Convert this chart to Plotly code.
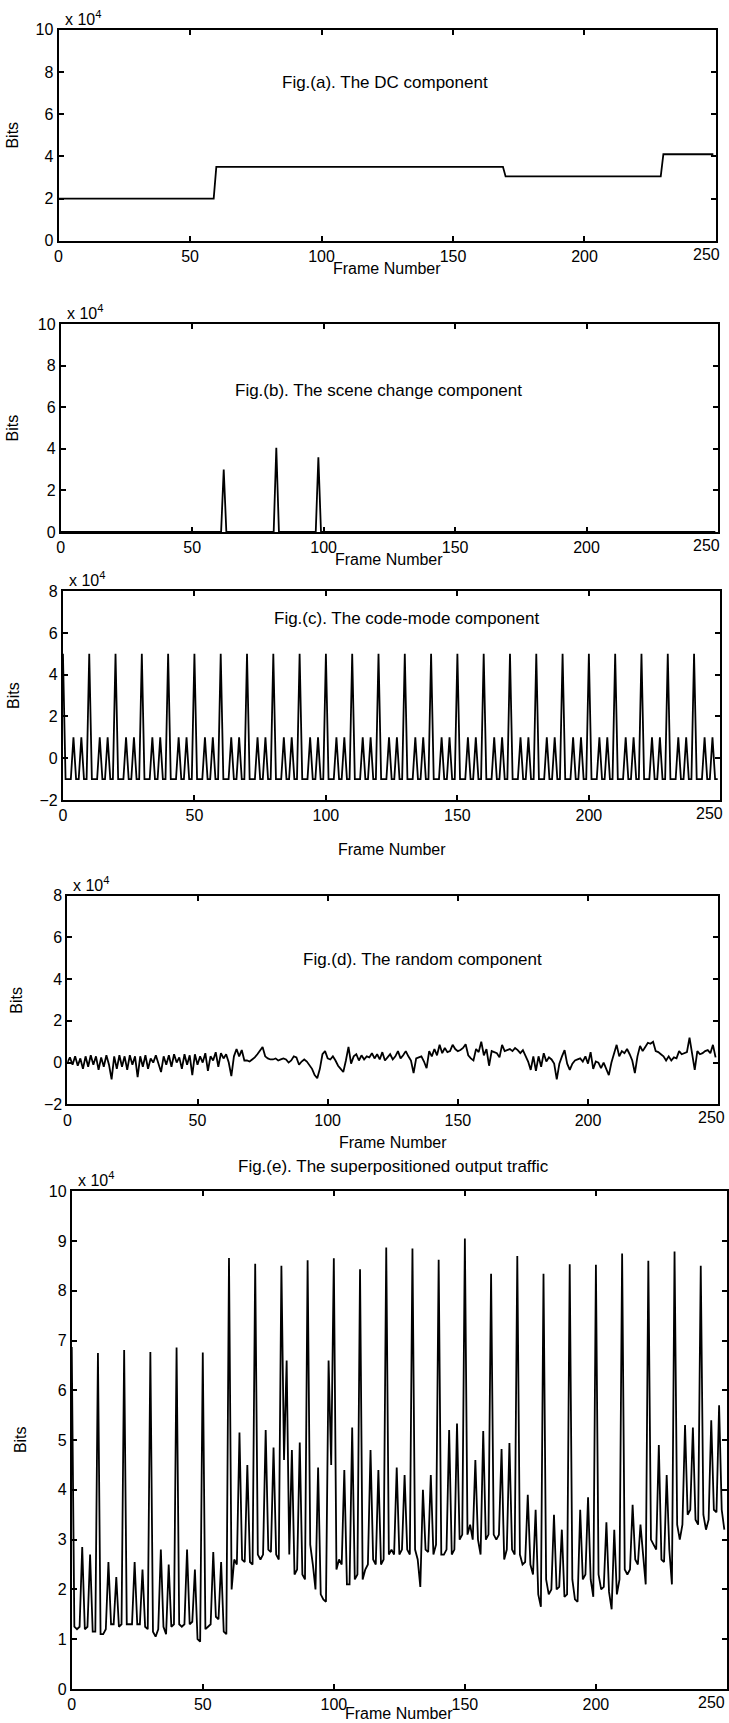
import plotly.graph_objects as go

W, H = 729, 1723

# ---- data (bits, in units of 1e4) ----
frames = list(range(250))
x_ticks = [0, 50, 100, 150, 200, 250]

# DC component: piecewise-constant levels
dc_start = [0, 60, 170, 230]
dc_level = [2.0, 3.5, 3.05, 4.1]

# Scene-change spikes
scene_frames = [62, 82, 98]
scene_bits = [3.0, 4.05, 3.6]

# Code-mode component: GOP frame types and their size offsets
gop = "IBBBPBBPBB"
type_bits = {"I": 5.0, "P": 1.0, "B": -1.0}

# Random component
random_bits = [
    0.0, 0.25, -0.1, 0.3, -0.15, 0.2, -0.3, 0.3, -0.2, 0.35,
    -0.1, 0.3, -0.35, 0.25, -0.2, 0.35, -0.1, -0.8, 0.3, -0.3,
    0.35, -0.2, 0.3, -0.35, 0.35, -0.1, 0.3, -0.7, 0.3, -0.2,
    0.35, -0.3, 0.2, 0.0, 0.35, -0.1, -0.45, 0.3, -0.1, 0.35,
    -0.2, 0.4, 0.0, 0.25, -0.3, 0.4, -0.1, 0.35, -0.6, 0.4,
    -0.1, 0.3, 0.0, 0.45, -0.4, 0.3, 0.1, 0.5, -0.2, 0.45,
    0.2, 0.4, 0.0, -0.65, 0.3, 0.65, 0.3, 0.6, 0.1, 0.1,
    0.05, 0.15, 0.25, 0.4, 0.55, 0.75, 0.3, 0.2, 0.15, 0.15,
    0.2, 0.1, 0.15, 0.2, 0.15, 0.0, 0.1, 0.3, 0.25, -0.1,
    0.05, 0.15, 0.05, -0.1, -0.3, -0.6, -0.75, -0.3, 0.4, 0.55,
    0.2, 0.15, 0.3, 0.1, -0.15, -0.3, -0.45, 0.1, 0.75, -0.05,
    0.3, 0.4, 0.1, 0.35, 0.15, 0.3, 0.25, 0.45, 0.2, 0.4,
    0.15, 0.5, 0.1, 0.25, 0.4, 0.15, 0.3, 0.55, 0.2, 0.35,
    0.55, 0.3, 0.1, -0.5, 0.2, 0.25, 0.3, 0.05, -0.27, 0.55,
    0.3, 0.65, 0.35, 0.85, 0.45, 0.7, 0.5, 0.55, 0.85, 0.65,
    0.55, 0.6, 0.7, 0.88, 0.35, 0.2, 0.1, 0.65, 0.5, 1.0,
    0.35, 0.65, -0.15, 0.55, 0.5, 0.45, 0.25, 0.85, 0.55, 0.6,
    0.65, 0.55, 0.7, 0.6, 0.45, 0.6, 0.3, 0.05, -0.35, 0.3,
    -0.4, 0.3, -0.2, 0.45, 0.05, 0.25, 0.15, -0.05, -0.8, -0.05,
    0.3, 0.6, -0.05, -0.35, -0.05, 0.1, 0.15, 0.2, 0.05, 0.3,
    -0.05, 0.5, -0.3, 0.05, 0.0, -0.27, 0.0, -0.3, -0.6, 0.0,
    0.45, 0.85, 0.3, 0.55, 0.45, 0.65, 0.4, 0.1, -0.5, 0.3,
    0.8, 0.55, 0.75, 0.95, 0.9, 1.0, 0.55, 0.5, 0.4, 0.3,
    0.1, 0.3, 0.1, 0.25, 0.2, 0.55, 0.4, 0.45, 0.5, 1.2,
    0.45, -0.35, 0.55, 0.4, 0.45, 0.55, 0.6, 0.45, 0.85, 0.25,
]

# Superpositioned output traffic, one row per 10-frame GOP
traffic = [
    6.87, 1.25, 1.2, 1.25, 2.85, 1.2, 1.25, 2.7, 1.15, 1.15,
    6.75, 1.1, 1.1, 1.2, 2.55, 1.3, 1.3, 2.25, 1.25, 1.3,
    6.81, 1.3, 1.3, 1.3, 2.55, 1.3, 1.3, 2.4, 1.25, 1.2,
    6.77, 1.15, 1.05, 1.2, 2.8, 1.25, 1.1, 2.5, 1.25, 1.3,
    6.86, 1.3, 1.25, 1.3, 2.8, 1.3, 1.35, 2.4, 1.0, 0.95,
    6.76, 1.2, 1.25, 1.3, 2.75, 1.45, 1.4, 2.55, 1.15, 1.1,
    8.66, 2.0, 2.6, 2.5, 5.15, 2.6, 2.55, 4.5, 2.55, 2.5,
    8.54, 2.7, 2.6, 2.7, 5.2, 2.8, 2.75, 4.85, 2.7, 2.6,
    8.5, 4.6, 6.6, 2.7, 4.8, 2.3, 2.4, 4.95, 2.3, 2.2,
    8.61, 2.9, 2.5, 2.0, 4.45, 1.9, 1.8, 1.75, 6.6, 4.5,
    8.65, 2.4, 2.6, 2.5, 4.4, 2.1, 2.1, 5.25, 2.2, 2.3,
    8.43, 2.2, 2.4, 2.5, 4.8, 2.6, 2.5, 4.4, 2.5, 2.6,
    8.87, 2.7, 2.8, 2.7, 4.45, 2.7, 2.8, 4.3, 2.8, 2.7,
    8.85, 2.8, 2.6, 2.05, 4.0, 2.8, 2.75, 4.3, 2.7, 2.9,
    8.62, 2.7, 2.7, 2.8, 5.2, 2.7, 2.8, 5.33, 3.0, 3.1,
    9.05, 3.1, 3.3, 3.0, 4.6, 3.0, 2.7, 5.18, 3.0, 3.1,
    8.34, 3.1, 3.0, 3.1, 4.82, 2.6, 2.8, 4.94, 2.8, 2.7,
    8.7, 2.7, 2.5, 2.55, 3.9, 2.5, 2.3, 3.6, 1.9, 1.65,
    8.34, 2.2, 1.9, 2.0, 3.5, 2.0, 2.05, 3.2, 1.85, 1.9,
    8.53, 2.2, 1.8, 1.75, 3.6, 2.2, 2.3, 3.85, 2.2, 1.85,
    8.52, 2.3, 2.0, 2.05, 3.35, 1.95, 1.6, 3.2, 1.9, 2.2,
    8.75, 2.4, 2.3, 2.4, 3.7, 2.6, 2.5, 3.3, 2.7, 2.1,
    8.6, 3.0, 2.9, 2.8, 4.9, 2.6, 2.55, 4.3, 2.8, 2.1,
    8.79, 3.3, 3.0, 3.3, 5.3, 3.5, 3.6, 5.25, 3.4, 3.3,
    8.5, 3.5, 3.2, 3.4, 5.4, 3.6, 3.55, 5.7, 3.6, 3.2,
]

# ---- per-frame components ----
dc = []
for f in frames:
    lvl = dc_level[0]
    for s, v in zip(dc_start, dc_level):
        if f >= s:
            lvl = v
    dc.append(lvl)

scene = [0.0] * len(frames)
for f, v in zip(scene_frames, scene_bits):
    scene[f] = v

code = [type_bits[gop[f % len(gop)]] for f in frames]


# ---- page-pixel to paper helpers (page carries an 8px body margin) ----
def px(X):
    return (1.0068 * X - 6) / W


def py(Y):
    return 1 - (1.00929 * Y - 8) / H


# ---- five panels: pixel box (left, right, top, bottom) ----
panels = [
    dict(y=dc, box=(60.5, 718, 29.7, 240.8), yr=[0, 10], dt=2,
         title="Fig.(a). The DC component", tx=387, ty=82.5,
         bx=14.3, fy=269, lx=709),
    dict(y=scene, box=(62.7, 720, 324.4, 532.2), yr=[0, 10], dt=2,
         title="Fig.(b). The scene change component", tx=380.4, ty=390.3,
         bx=14.3, fy=560, lx=709),
    dict(y=code, box=(64.9, 722.4, 591.5, 800.4), yr=[-2, 8], dt=2,
         title="Fig.(c). The code-mode component", tx=409, ty=619,
         bx=15.4, fy=850, lx=712),
    dict(y=random_bits, box=(69.3, 720.2, 896.1, 1105), yr=[-2, 8], dt=2,
         title="Fig.(d). The random component", tx=424.4, ty=960,
         bx=18.7, fy=1143, lx=714),
    dict(y=traffic, box=(73.7, 729, 1191.9, 1690), yr=[0, 10], dt=1,
         title="Fig.(e). The superpositioned output traffic", tx=395.8,
         ty=1167.7, bx=22, fy=1715, lx=714),
]

FONT = "Liberation Sans, Arial, Helvetica, sans-serif"
TICK_SIZE = 16

fig = go.Figure()
layout = dict(
    width=W, height=H,
    margin=dict(l=0, r=0, t=0, b=0),
    paper_bgcolor="white", plot_bgcolor="white",
    showlegend=False,
    font=dict(family=FONT, size=16, color="black"),
    annotations=[],
)

for i, p in enumerate(panels, start=1):
    l, r, t, b = p["box"]
    xa = "xaxis" if i == 1 else f"xaxis{i}"
    ya = "yaxis" if i == 1 else f"yaxis{i}"
    xr = "x" if i == 1 else f"x{i}"
    yr = "y" if i == 1 else f"y{i}"
    fig.add_trace(go.Scatter(
        x=frames, y=p["y"], mode="lines", xaxis=xr, yaxis=yr,
        line=dict(color="black", width=1.8), hoverinfo="skip",
    ))
    axis_common = dict(
        showline=True, mirror="ticks", linecolor="black", linewidth=2,
        ticks="inside", ticklen=5, tickwidth=1.5, tickcolor="black",
        showgrid=False, zeroline=False,
        tickfont=dict(family=FONT, size=TICK_SIZE, color="black"),
    )
    # the last x label sits at the page edge, so it is placed separately
    layout[xa] = dict(
        domain=[px(l), px(r)], range=[0, 250],
        tickvals=x_ticks,
        ticktext=[str(v) for v in x_ticks[:-1]] + [""],
        anchor=yr, **axis_common,
    )
    layout[ya] = dict(
        domain=[py(b), py(t)], range=p["yr"], tick0=p["yr"][0],
        dtick=p["dt"], anchor=xr, **axis_common,
    )
    layout["annotations"].append(dict(
        text=str(x_ticks[-1]), x=px(p["lx"]), y=py(b + 3),
        xref="paper", yref="paper", showarrow=False,
        xanchor="center", yanchor="top",
        font=dict(family=FONT, size=TICK_SIZE, color="black"),
    ))
    # panel caption
    layout["annotations"].append(dict(
        text=p["title"], x=px(p["tx"]), y=py(p["ty"]),
        xref="paper", yref="paper", showarrow=False,
        xanchor="center", yanchor="middle",
        font=dict(family=FONT, size=17, color="black"),
    ))
    # y axis label
    layout["annotations"].append(dict(
        text="Bits", x=px(p["bx"]), y=py((t + b) / 2),
        xref="paper", yref="paper", showarrow=False, textangle=-90,
        xanchor="center", yanchor="middle",
        font=dict(family=FONT, size=16, color="black"),
    ))
    # x axis label
    layout["annotations"].append(dict(
        text="Frame Number", x=px((l + r) / 2), y=py(p["fy"]),
        xref="paper", yref="paper", showarrow=False,
        xanchor="center", yanchor="middle",
        font=dict(family=FONT, size=16, color="black"),
    ))
    # exponent label
    layout["annotations"].append(dict(
        text="x 10<sup>4</sup>", x=px(l + 4), y=py(t - 12),
        xref="paper", yref="paper", showarrow=False,
        xanchor="left", yanchor="middle",
        font=dict(family=FONT, size=16, color="black"),
    ))

fig.update_layout(**layout)
fig.write_html("out.html")
